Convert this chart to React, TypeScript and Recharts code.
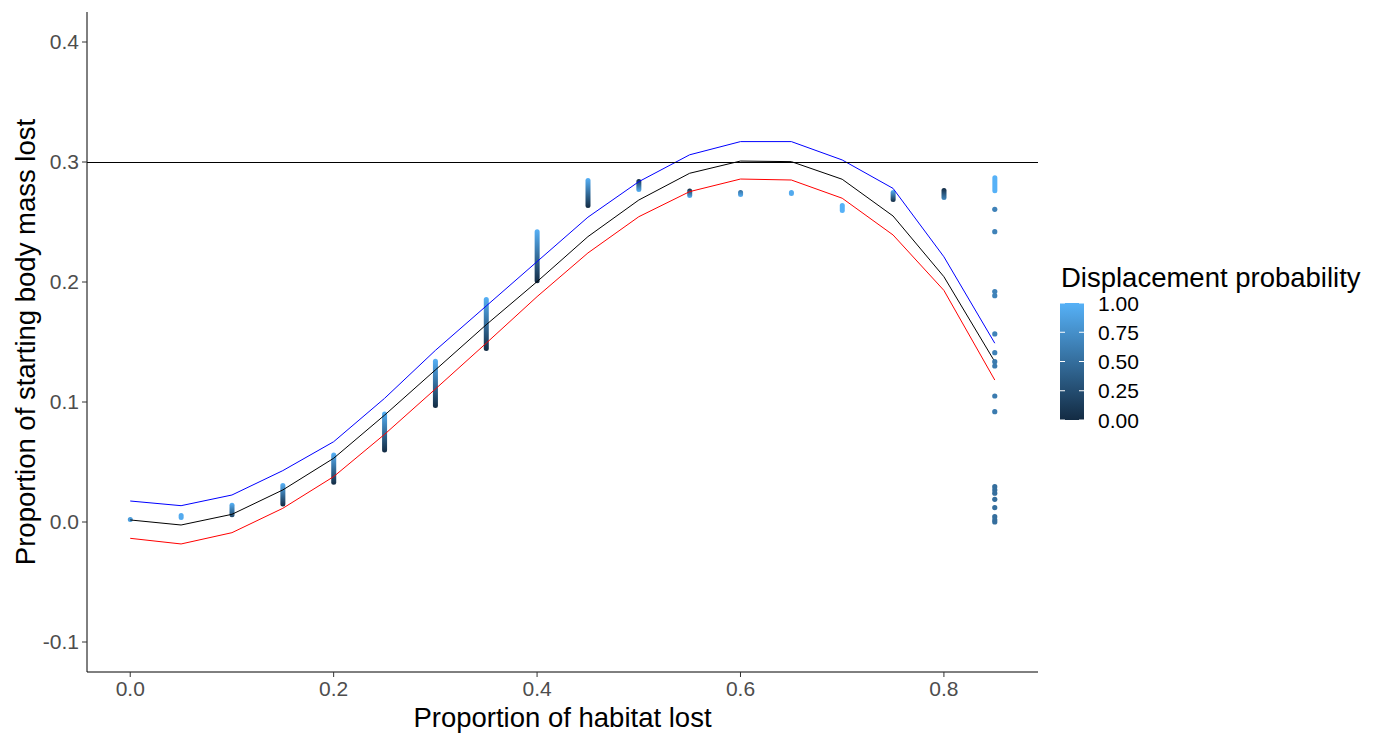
import React from 'react';
import {
  ComposedChart,
  Line,
  Bar,
  Scatter,
  XAxis,
  YAxis,
  ReferenceLine,
  Label,
} from 'recharts';

// habitat lost steps (x)
const habitatLost = [0, 0.05, 0.1, 0.15, 0.2, 0.25, 0.3, 0.35, 0.4, 0.45, 0.5, 0.55, 0.6, 0.65, 0.7, 0.75, 0.8, 0.85];

// fitted curve and its bounds
const upperBand = [0.0175, 0.0136, 0.0225, 0.0428, 0.0669, 0.103, 0.143, 0.18, 0.217, 0.254, 0.2836, 0.306, 0.317, 0.317, 0.3017, 0.278, 0.221, 0.149];
const fitted = [0.0017, -0.0025, 0.0064, 0.0267, 0.0531, 0.089, 0.1267, 0.1644, 0.2003, 0.2378, 0.2683, 0.2906, 0.3008, 0.3003, 0.2856, 0.255, 0.2044, 0.1336];
const lowerBand = [-0.0136, -0.0183, -0.0089, 0.0114, 0.0378, 0.073, 0.1108, 0.149, 0.1878, 0.2242, 0.2544, 0.2753, 0.2858, 0.285, 0.2698, 0.2392, 0.193, 0.1183];

// simulated points: extent of each stacked column and displacement prob at its ends
const columnLow = [0.001, 0.0017, 0.004, 0.013, 0.031, 0.058, 0.095, 0.1425, 0.199, 0.2617, 0.275, 0.27, 0.2708, 0.2717, 0.2575, 0.2667, 0.2683, 0.274];
const columnHigh = [0.003, 0.0075, 0.016, 0.0325, 0.058, 0.092, 0.136, 0.1875, 0.244, 0.2867, 0.2858, 0.278, 0.2767, 0.2767, 0.2658, 0.2767, 0.2783, 0.289];
const columnTopProb = [0.85, 0.95, 1, 1, 1, 1, 1, 1, 1, 1, 0, 0, 0.5, 0.95, 1, 1, 0, 1];
const columnBottomProb = [0.85, 0.95, 0.2, 0, 0, 0, 0, 0, 0, 0, 1, 1, 1, 0.95, 1, 0, 0.7, 1];

// scattered points at 0.85
const outlierMass = [0.2606, 0.2419, 0.192, 0.1886, 0.1567, 0.1411, 0.1336, 0.13, 0.105, 0.0919, 0.0294, 0.0267, 0.024, 0.0189, 0.0119, 0.0044, 0.0017, 0.0];
const outlierProb = [0.65, 0.65, 0.65, 0.65, 0.65, 0.65, 0.6, 0.6, 0.6, 0.6, 0.5, 0.5, 0.5, 0.5, 0.5, 0.5, 0.5, 0.5];

const legendBreaks = [1, 0.75, 0.5, 0.25, 0];

const LOW = [0x13, 0x2b, 0x43];
const HIGH = [0x56, 0xb1, 0xf7];
const colourFor = (p: number) => {
  const c = LOW.map((l, i) => Math.round(l + (HIGH[i] - l) * p));
  return `rgb(${c[0]},${c[1]},${c[2]})`;
};

const rows = habitatLost.map((x, i) => ({
  x,
  upper: upperBand[i],
  fit: fitted[i],
  lower: lowerBand[i],
  column: [columnLow[i], columnHigh[i]],
  pTop: columnTopProb[i],
  pBottom: columnBottomProb[i],
}));

const outliers = outlierMass.map((y, i) => ({ x: 0.85, y, p: outlierProb[i] }));

const FONT = '"Liberation Sans", Arial, sans-serif';

const ColumnShape = (props: any) => {
  const { x, y, width, height, index, payload } = props;
  let top = Math.min(y, y + height);
  let h = Math.abs(height);
  if (h < width) {
    top = top + h / 2 - width / 2;
    h = width;
  }
  const id = `col-grad-${index}`;
  return (
    <g>
      <defs>
        <linearGradient id={id} x1="0" y1="0" x2="0" y2="1">
          <stop offset="0" stopColor={colourFor(payload.pTop)} />
          <stop offset="1" stopColor={colourFor(payload.pBottom)} />
        </linearGradient>
      </defs>
      <rect x={x} y={top} width={width} height={h} rx={width / 2} ry={width / 2} fill={`url(#${id})`} />
    </g>
  );
};

const OutlierDot = (props: any) => {
  const { cx, cy, payload } = props;
  return <circle cx={cx} cy={cy} r={2.6} fill={colourFor(payload.p)} />;
};

function ColourLegend() {
  const top = 303;
  const barH = 117;
  return (
    <svg
      width={330}
      height={200}
      style={{ position: 'absolute', left: 1050, top: 260, fontFamily: FONT }}
    >
      <defs>
        <linearGradient id="legend-grad" x1="0" y1="0" x2="0" y2="1">
          <stop offset="0" stopColor={colourFor(1)} />
          <stop offset="1" stopColor={colourFor(0)} />
        </linearGradient>
      </defs>
      <text x={11} y={27} fontSize={27.5} fill="#000">
        Displacement probability
      </text>
      <rect x={10} y={top - 260} width={24} height={barH} fill="url(#legend-grad)" />
      {legendBreaks.map((b) => {
        const ty = top - 260 + (1 - b) * barH;
        return (
          <g key={b}>
            <line x1={10} x2={15} y1={ty} y2={ty} stroke="#fff" strokeWidth={1} />
            <line x1={29} x2={34} y1={ty} y2={ty} stroke="#fff" strokeWidth={1} />
            <text x={48} y={ty} dy="0.36em" fontSize={21} fill="#000">
              {b.toFixed(2)}
            </text>
          </g>
        );
      })}
    </svg>
  );
}

export default function App() {
  return (
    <div style={{ position: 'absolute', left: 0, top: 0, width: 1379, height: 735, background: '#fff' }}>
      <ComposedChart
        width={1379}
        height={735}
        data={rows}
        margin={{ top: 12, right: 341, left: 0, bottom: 0 }}
        style={{ fontFamily: FONT }}
      >
        <XAxis
          type="number"
          dataKey="x"
          domain={[-0.0425, 0.8925]}
          ticks={[0, 0.2, 0.4, 0.6, 0.8]}
          tickFormatter={(v: number) => v.toFixed(1)}
          allowDataOverflow
          height={63}
          tickSize={5}
          tickMargin={4}
          axisLine={{ stroke: '#000', strokeWidth: 1 }}
          tickLine={{ stroke: '#333' }}
          tick={{ fill: '#4D4D4D', fontSize: 21 }}
        >
          <Label value="Proportion of habitat lost" position="insideBottom" offset={8} style={{ fontSize: 27.5, fill: '#000' }} />
        </XAxis>
        <YAxis
          type="number"
          domain={[-0.125, 0.425]}
          ticks={[-0.1, 0, 0.1, 0.2, 0.3, 0.4]}
          tickFormatter={(v: number) => v.toFixed(1)}
          allowDataOverflow
          width={87}
          tickSize={5}
          tickMargin={3}
          axisLine={{ stroke: '#000', strokeWidth: 1 }}
          tickLine={{ stroke: '#333' }}
          tick={{ fill: '#4D4D4D', fontSize: 21 }}
        >
          <Label
            value="Proportion of starting body mass lost"
            position="insideLeft"
            angle={-90}
            offset={25}
            style={{ fontSize: 27.5, fill: '#000', textAnchor: 'middle' }}
          />
        </YAxis>
        <Bar dataKey="column" barSize={5} shape={ColumnShape} isAnimationActive={false} />
        <Scatter data={outliers} dataKey="y" shape={OutlierDot} isAnimationActive={false} />
        <Line type="linear" dataKey="upper" stroke="#0000FF" strokeWidth={1} dot={false} isAnimationActive={false} />
        <Line type="linear" dataKey="fit" stroke="#000000" strokeWidth={1} dot={false} isAnimationActive={false} />
        <Line type="linear" dataKey="lower" stroke="#FF0000" strokeWidth={1} dot={false} isAnimationActive={false} />
        <ReferenceLine y={0.3} stroke="#000" strokeWidth={1} shapeRendering="crispEdges" />
      </ComposedChart>
      <ColourLegend />
    </div>
  );
}
